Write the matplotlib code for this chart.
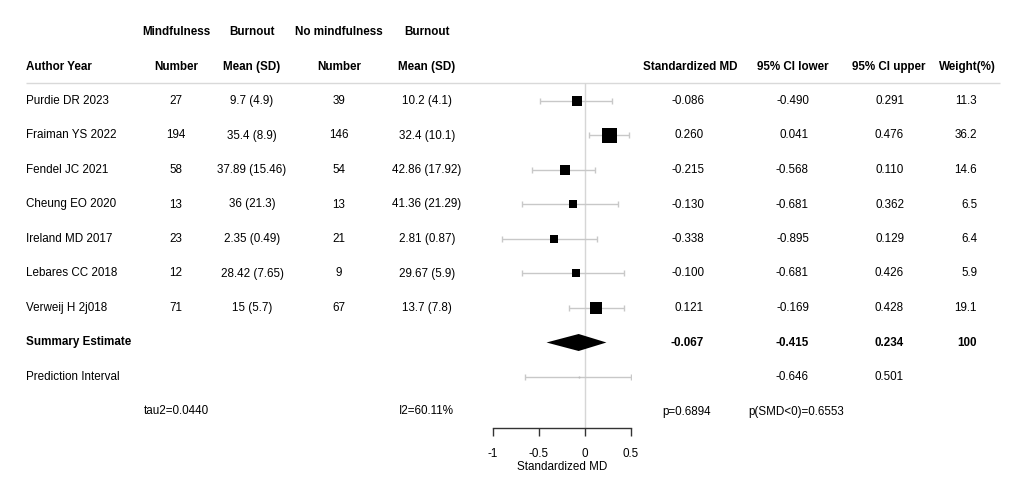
import matplotlib
matplotlib.use("Agg")
import matplotlib.pyplot as plt
import numpy as np

# study data
authors = ["Purdie DR 2023", "Fraiman YS 2022", "Fendel JC 2021", "Cheung EO 2020",
           "Ireland MD 2017", "Lebares CC 2018", "Verweij H 2j018"]
n_mind = [27, 194, 58, 13, 23, 12, 71]
mean_mind = [9.7, 35.4, 37.89, 36, 2.35, 28.42, 15]
sd_mind = [4.9, 8.9, 15.46, 21.3, 0.49, 7.65, 5.7]
n_ctrl = [39, 146, 54, 13, 21, 9, 67]
mean_ctrl = [10.2, 32.4, 42.86, 41.36, 2.81, 29.67, 13.7]
sd_ctrl = [4.1, 10.1, 17.92, 21.29, 0.87, 5.9, 7.8]
smd = [-0.086, 0.260, -0.215, -0.130, -0.338, -0.100, 0.121]
ci_lo = [-0.490, 0.041, -0.568, -0.681, -0.895, -0.681, -0.169]
ci_hi = [0.291, 0.476, 0.110, 0.362, 0.129, 0.426, 0.428]
weight = [11.3, 36.2, 14.6, 6.5, 6.4, 5.9, 19.1]

# pooled results
sum_est, sum_lo, sum_hi, sum_w = -0.067, -0.415, 0.234, 100
pi_lo, pi_hi = -0.646, 0.501
stats_text = ["tau2=0.0440", "I2=60.11%", "p=0.6894", "p(SMD<0)=0.6553"]

x_ticks = [-1, -0.5, 0, 0.5]
x_ticklabels = ["-1", "-0.5", "0", "0.5"]

plt.rcParams['font.family'] = ['Liberation Sans', 'DejaVu Sans']
FS = 8.4
W, H = 1024, 492

fig = plt.figure(figsize=(W / 100, H / 100), dpi=100)

# text layer in pixel coordinates
tab = fig.add_axes([0, 0, 1, 1])
tab.set_xlim(0, W)
tab.set_ylim(H, 0)
tab.axis("off")

row0, dy = 101, 34.5
rows_y = [row0 + dy * i for i in range(len(authors))]
y_sum = row0 + dy * 7
y_pi = row0 + dy * 8
y_stat = row0 + dy * 9

# column positions
c_auth = 26
c_n1, c_m1, c_n2, c_m2 = 176, 252, 339, 427
r_smd, r_lo, r_hi, r_w = 704, 809, 904, 977

def txt(x, y, s, ha="center", bold=False):
    tab.text(x, y, s, ha=ha, va="center", fontsize=FS,
             fontweight="bold" if bold else "normal", color="black")

# headers
for x, s in [(c_n1, "Mindfulness"), (c_m1, "Burnout"),
             (c_n2, "No mindfulness"), (c_m2, "Burnout")]:
    txt(x, 32, s, bold=True)
txt(c_auth, 67, "Author Year", ha="left", bold=True)
for x, s in [(c_n1, "Number"), (c_m1, "Mean (SD)"), (c_n2, "Number"),
             (c_m2, "Mean (SD)"), (690, "Standardized MD"), (793, "95% CI lower"),
             (889, "95% CI upper"), (967, "Weight(%)")]:
    txt(x, 67, s, bold=True)
tab.hlines(83, 26, 1000, color="#d9d9d9", lw=1)

# study rows
for i, y in enumerate(rows_y):
    txt(c_auth, y, authors[i], ha="left")
    txt(c_n1, y, str(n_mind[i]))
    txt(c_m1, y, f"{mean_mind[i]:g} ({sd_mind[i]:g})")
    txt(c_n2, y, str(n_ctrl[i]))
    txt(c_m2, y, f"{mean_ctrl[i]:g} ({sd_ctrl[i]:g})")
    txt(r_smd, y, f"{smd[i]:.3f}", ha="right")
    txt(r_lo, y, f"{ci_lo[i]:.3f}", ha="right")
    txt(r_hi, y, f"{ci_hi[i]:.3f}", ha="right")
    txt(r_w, y, f"{weight[i]:.1f}", ha="right")

txt(c_auth, y_sum, "Summary Estimate", ha="left", bold=True)
txt(r_smd, y_sum, f"{sum_est:.3f}", ha="right", bold=True)
txt(r_lo, y_sum, f"{sum_lo:.3f}", ha="right", bold=True)
txt(r_hi, y_sum, f"{sum_hi:.3f}", ha="right", bold=True)
txt(r_w, y_sum, f"{sum_w}", ha="right", bold=True)

txt(c_auth, y_pi, "Prediction Interval", ha="left")
txt(r_lo, y_pi, f"{pi_lo:.3f}", ha="right")
txt(r_hi, y_pi, f"{pi_hi:.3f}", ha="right")

for x, s in zip([176, 426, 687, 796], stats_text):
    txt(x, y_stat, s)

# forest plot
x0px, x1px = 492.5, 631
top_px, bot_px = 83, 428
ax = fig.add_axes([x0px / W, (H - bot_px) / H, (x1px - x0px) / W, (bot_px - top_px) / H])
ax.set_xlim(-1, 0.5)
ax.set_ylim(bot_px, top_px)
ax.patch.set_alpha(0)
ax.axvline(0, color="#d6d6d6", lw=1, zorder=0)

ci_col = "#c8c8c8"
for i, y in enumerate(rows_y):
    ax.errorbar(smd[i], y, xerr=[[smd[i] - ci_lo[i]], [ci_hi[i] - smd[i]]],
                fmt="none", ecolor=ci_col, elinewidth=1, capsize=2.2,
                capthick=1, zorder=2, clip_on=False)
    side_px = 15 * (weight[i] / max(weight)) ** 0.4
    ax.plot(smd[i], y, marker="s", ms=side_px * 0.72, color="black",
            mec="black", mew=0, zorder=3, clip_on=False)

# summary diamond
h = 8.5
ax.fill([sum_lo, sum_est, sum_hi, sum_est], [y_sum, y_sum - h, y_sum, y_sum + h],
        color="black", zorder=3, lw=0)

# prediction interval
ax.errorbar(sum_est, y_pi, xerr=[[sum_est - pi_lo], [pi_hi - sum_est]],
            fmt=".", ms=1, color="#bbbbbb", ecolor=ci_col, elinewidth=1,
            capsize=2.2, capthick=1, zorder=2)

for s in ["top", "left", "right"]:
    ax.spines[s].set_visible(False)
ax.spines["bottom"].set_color("#333333")
ax.spines["bottom"].set_linewidth(1)
ax.set_yticks([])
ax.set_xticks(x_ticks)
ax.set_xticklabels(x_ticklabels)
ax.tick_params(axis="x", direction="out", length=5.8, width=1, color="#333333",
               labelsize=FS, pad=8.5)
ax.set_xlabel("Standardized MD", fontsize=FS, labelpad=1)

fig.savefig("out.png", dpi=100)
